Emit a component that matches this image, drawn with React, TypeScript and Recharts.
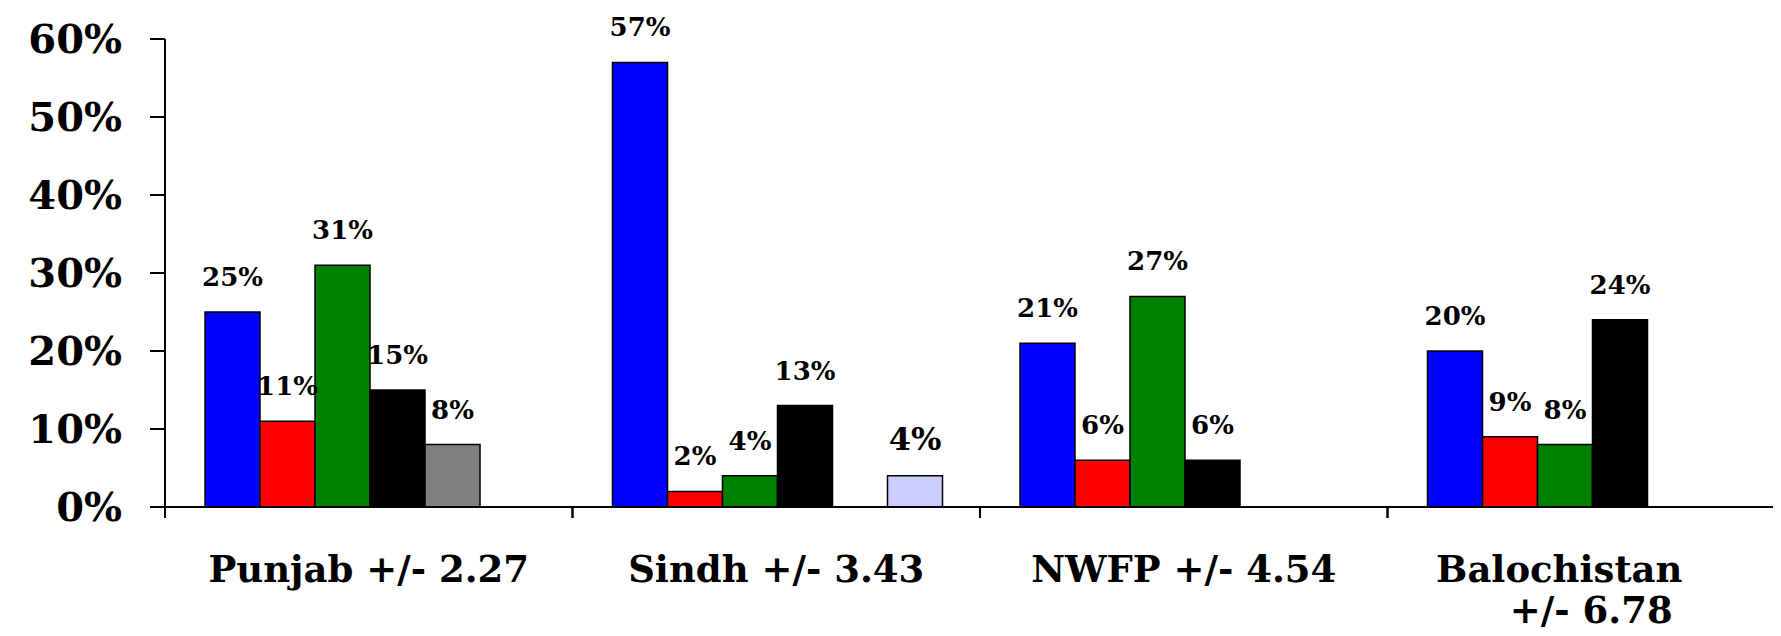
import React from "react";
import { BarChart, Bar, XAxis, YAxis, LabelList } from "recharts";

// province labels (second line where the original wraps)
const provinces = ["Punjab +/- 2.27", "Sindh +/- 3.43", "NWFP +/- 4.54", "Balochistan"];
const provinceSecondLine = ["", "", "", "+/- 6.78"];

// series values in percent, null = no bar
const blueValues = [25, 57, 21, 20];
const redValues = [11, 2, 6, 9];
const greenValues = [31, 4, 27, 8];
const blackValues = [15, 13, 6, 24];
const greyValues: (number | null)[] = [8, null, null, null];
const lavenderValues: (number | null)[] = [null, 4, null, null];

const yTicks = [0, 10, 20, 30, 40, 50, 60];

const data = provinces.map((name, i) => ({
  name,
  line2: provinceSecondLine[i],
  blue: blueValues[i],
  red: redValues[i],
  green: greenValues[i],
  black: blackValues[i],
  grey: greyValues[i],
  lavender: lavenderValues[i],
}));

const FONT = "'DejaVu Serif', Georgia, serif";
const CHART_W = 1800;
const PLOT_LEFT = 165;
const PLOT_RIGHT = 5;

function ValueLabel(props: any) {
  const { x, y, width, value, fontSize = 26 } = props;
  if (value === null || value === undefined) return null;
  return (
    <text
      x={Number(x) + Number(width) / 2}
      y={Number(y) - 26}
      textAnchor="middle"
      fontFamily={FONT}
      fontWeight="bold"
      fontSize={fontSize}
      fill="#000"
    >
      {value}%
    </text>
  );
}

function ProvinceTick(props: any) {
  const { x, y, payload, index } = props;
  const half =
    payload && typeof payload.offset === "number" && payload.offset > 0
      ? payload.offset
      : (CHART_W - PLOT_LEFT - PLOT_RIGHT) / provinces.length / 2;
  const second = provinceSecondLine[index];
  return (
    <g>
      <line x1={x - half} x2={x - half} y1={y} y2={y + 11} stroke="#000" strokeWidth={2} />
      <line x1={x + half} x2={x + half} y1={y} y2={y + 11} stroke="#000" strokeWidth={2} />
      <text
        x={x}
        y={y + 75}
        textAnchor="middle"
        fontFamily={FONT}
        fontWeight="bold"
        fontSize={37}
        fill="#000"
      >
        <tspan x={second ? x - 32 : x}>{payload.value}</tspan>
        {second ? (
          <tspan x={x} dy={41}>
            {second}
          </tspan>
        ) : null}
      </text>
    </g>
  );
}

export default function App() {
  return (
    <div style={{ margin: -8, width: 1781, height: 636, overflow: "hidden", background: "#fff" }}>
      <BarChart
        width={CHART_W}
        height={636}
        data={data}
        margin={{ top: 39, right: PLOT_RIGHT, bottom: 0, left: 0 }}
        barCategoryGap={40}
        barGap={0}
      >
        <XAxis
          dataKey="name"
          height={129}
          axisLine={{ stroke: "#000", strokeWidth: 2 }}
          tickLine={false}
          tickSize={0}
          tickMargin={0}
          interval={0}
          tick={<ProvinceTick />}
        />
        <YAxis
          width={PLOT_LEFT}
          domain={[0, 60]}
          ticks={yTicks}
          interval={0}
          tickFormatter={(v: number) => `${v}%`}
          axisLine={{ stroke: "#000", strokeWidth: 2 }}
          tickLine={{ stroke: "#000", strokeWidth: 2 }}
          tickSize={15}
          tickMargin={28}
          tick={{ fill: "#000", fontFamily: FONT, fontWeight: "bold", fontSize: 40 }}
        />
        <Bar dataKey="blue" fill="#0000FF" stroke="#000" strokeWidth={1.5} isAnimationActive={false}>
          <LabelList dataKey="blue" content={<ValueLabel />} />
        </Bar>
        <Bar dataKey="red" fill="#FF0000" stroke="#000" strokeWidth={1.5} isAnimationActive={false}>
          <LabelList dataKey="red" content={<ValueLabel />} />
        </Bar>
        <Bar dataKey="green" fill="#008000" stroke="#000" strokeWidth={1.5} isAnimationActive={false}>
          <LabelList dataKey="green" content={<ValueLabel />} />
        </Bar>
        <Bar dataKey="black" fill="#000000" stroke="#000" strokeWidth={1.5} isAnimationActive={false}>
          <LabelList dataKey="black" content={<ValueLabel />} />
        </Bar>
        <Bar dataKey="grey" fill="#808080" stroke="#000" strokeWidth={1.5} isAnimationActive={false}>
          <LabelList dataKey="grey" content={<ValueLabel />} />
        </Bar>
        <Bar dataKey="lavender" fill="#CCCCFF" stroke="#000" strokeWidth={1.5} isAnimationActive={false}>
          <LabelList dataKey="lavender" content={<ValueLabel fontSize={32} />} />
        </Bar>
      </BarChart>
    </div>
  );
}
